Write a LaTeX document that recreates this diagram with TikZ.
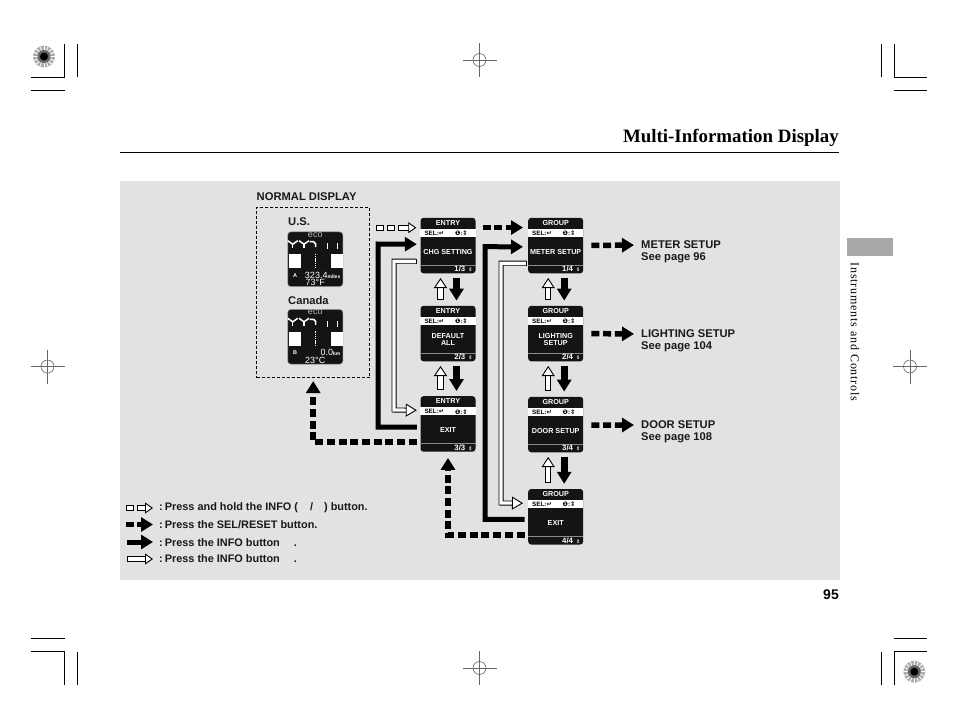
\documentclass[tikz,border=0pt]{standalone}
\usepackage{fontspec}
\setmainfont{Liberation Sans}
\newfontfamily\titleserif{Liberation Serif}
\newfontfamily\spacedserif[LetterSpace=7]{Liberation Serif}
\newfontfamily\symbolsans{DejaVu Sans}
\usetikzlibrary{arrows.meta}
\definecolor{panelgray}{HTML}{E2E2E2}
\definecolor{tabgray}{HTML}{A8A8A8}
\tikzset{
    plainlabel/.style={inner sep=0pt, anchor=west, font=\fontsize{11.2}{13}\selectfont\bfseries, text=black!90},
    legendlabel/.style={inner sep=0pt, anchor=base west, font=\fontsize{10.9}{13}\selectfont\bfseries, text=black!90},
    screenbox/.style={fill=black!92, rounded corners=3pt, minimum width=55pt, minimum height=55.5pt, inner sep=0pt, anchor=north west},
    screentext/.style={inner sep=0pt, text=white, align=center, font=\fontsize{7.2}{7.8}\selectfont\bfseries},
    bandtext/.style={inner sep=0pt, anchor=west, text=black, font=\fontsize{6.3}{7}\selectfont\bfseries},
    blackarrow/.style={line width=5pt, black, -{Triangle[length=12pt,width=14pt]}},
    whitearrow/.style={line width=0.9pt, double=white, double distance=3.2pt, black, {Bar[width=5pt,length=0.9pt]}-{Triangle[open,fill=white,length=11pt,width=13pt]}},
    keyarrow/.style={line width=0.9pt, double=white, double distance=4pt, black, {Bar[width=5.8pt,length=0.9pt]}-{Triangle[open,fill=white,length=8pt,width=11pt]}},
    dasharrow/.style={line width=5.5pt, black, dash pattern=on 8pt off 3.7pt, -{Triangle[length=12pt,width=14pt]}},
    blackdown/.style={line width=7pt, black, -{Triangle[length=12pt,width=14pt]}},
    whiteup/.style={line width=0.9pt, double=white, double distance=4.4pt, black, {Bar[width=6.2pt,length=0.9pt]}-{Triangle[open,fill=white,length=10pt,width=13pt]}},
    keysquare/.style={draw=black, fill=white, line width=0.9pt, minimum width=7pt, minimum height=4.6pt, inner sep=0pt},
    cropline/.style={line width=1pt, black},
    finecross/.style={line width=0.6pt, black!60},
}
\newcommand{\menuscreen}[6]{
    \node[screenbox] (#1) at (#2,#3) {};
    \fill[white] ([yshift=-11.3pt]#1.north west) rectangle ([yshift=-19pt]#1.north east);
    \draw[line width=0.5pt, black!45] ([yshift=-47.5pt]#1.north west) -- ([yshift=-47.5pt]#1.north east);
    \node[screentext] (#1title) at ([yshift=-5.2pt]#1.north) {#4};
    \node[bandtext] (#1sel) at ([xshift=4pt,yshift=-15.8pt]#1.north west) {SEL:{\symbolsans ↵}};
    \node[bandtext] (#1info) at ([xshift=34.5pt,yshift=-15.8pt]#1.north west) {{\symbolsans ❶}:{\symbolsans ⇕}};
    \node[screentext] (#1body) at ([yshift=-34pt]#1.north) {#5};
    \node[screentext, anchor=east, font=\fontsize{7.8}{8}\selectfont\bfseries] (#1count) at ([xshift=-3pt,yshift=-51.6pt]#1.north east) {#6\hspace{3pt}{\symbolsans\fontsize{5}{6}\selectfont ⇕}};
}
\newcommand{\normalpanel}[7]{
    \node[screenbox, minimum height=54.5pt, draw=black!50, line width=0.5pt] (#1) at (#2,#3) {};
    \node[inner sep=0pt, text=black!28, font=\fontsize{9}{9}\selectfont] (#1eco) at ([yshift=-3.2pt]#1.north) {eco};
    \fill[white] ([xshift=1pt,yshift=-22.5pt]#1.north west) rectangle ([xshift=13.5pt,yshift=-36.5pt]#1.north west);
    \fill[white] ([xshift=-12.5pt,yshift=-22.5pt]#1.north east) rectangle ([yshift=-36.5pt]#1.north east);
    \draw[white, line width=0.5pt, dash pattern=on 1.5pt off 0.7pt] ([yshift=-22pt]#1.north) -- ([yshift=-37pt]#1.north);
    \foreach \gaugex in {5.2,16.5} {
        \draw[white, line width=1.5pt] ([xshift=\gaugex pt-5pt,yshift=-9pt]#1.north west) -- ([xshift=\gaugex pt,yshift=-12.5pt]#1.north west) -- ([xshift=\gaugex pt+5pt,yshift=-9pt]#1.north west);
        \draw[white, line width=1.5pt] ([xshift=\gaugex pt,yshift=-12.5pt]#1.north west) -- ([xshift=\gaugex pt,yshift=-16.5pt]#1.north west);
    }
    \draw[white, line width=1.5pt] ([xshift=22pt,yshift=-10pt]#1.north west) -- ([xshift=26pt,yshift=-10pt]#1.north west) -- ([xshift=28pt,yshift=-12pt]#1.north west) -- ([xshift=28pt,yshift=-15.5pt]#1.north west);
    \foreach \gaugex in {39.5,49.5} {
        \draw[white, line width=0.9pt] ([xshift=\gaugex pt,yshift=-11.5pt]#1.north west) -- ([xshift=\gaugex pt,yshift=-17.5pt]#1.north west);
    }
    \node[inner sep=0pt, text=white, font=\fontsize{5.5}{6}\selectfont\bfseries] (#1trip) at ([xshift=7.5pt,yshift=-43.5pt]#1.north west) {#4};
    \node[inner sep=0pt, anchor=east, text=white, font=\fontsize{9}{9}\selectfont] (#1range) at ([xshift=-2.5pt,yshift=-43.5pt]#1.north east) {#5{\fontsize{5}{5}\selectfont\bfseries #6}};
    \node[inner sep=0pt, text=white, font=\fontsize{9}{9}\selectfont] (#1temp) at ([yshift=-51pt]#1.north) {#7};
}
\newcommand{\regmark}[2]{
    \fill[black!32] (#1,#2) circle (11);
    \foreach \spokeangle in {0,22.5,...,337.5} {
        \draw[white, line width=0.8pt] (#1,#2) ++(\spokeangle:6) -- ++(\spokeangle:5);
    }
    \fill[black!60] (#1,#2) circle (6.5);
    \fill[black] (#1,#2) circle (4);
}
\newcommand{\finecrosshair}[2]{
    \draw[finecross] (#1,#2) circle (6.5);
    \draw[finecross] (#1-17,#2) -- (#1+17,#2);
    \draw[finecross] (#1,#2-17) -- (#1,#2+17);
}
\begin{document}
\begin{tikzpicture}[x=1pt, y=-1pt]
    \useasboundingbox (0,0) rectangle (954,710);
    \fill[panelgray] (120,181) rectangle (840,580);
    \fill[tabgray] (847,238) rectangle (893,256);
    \draw[line width=0.9pt] (120,152.5) -- (839,152.5);
    \node[inner sep=0pt, anchor=east, font=\fontsize{18.9}{22}\selectfont\titleserif\bfseries] (pagetitle) at (839,137.5) {Multi-Information Display};
    \node[inner sep=0pt, anchor=east, font=\fontsize{14}{16}\selectfont\bfseries] (pagenumber) at (839,595) {95};
    \node[inner sep=0pt, rotate=-90, font=\fontsize{12}{14}\spacedserif] (sidetab) at (855,332) {Instruments and Controls};
    \draw[cropline] (64.5,44) -- (64.5,77.3) -- (31,77.3);
    \draw[cropline] (77.3,44) -- (77.3,77);
    \draw[cropline] (31,90.3) -- (64.7,90.3);
    \draw[cropline] (881.7,44) -- (881.7,77);
    \draw[cropline] (894.3,44) -- (894.3,77.3) -- (927,77.3);
    \draw[cropline] (894,90.3) -- (927,90.3);
    \draw[cropline] (31,638.3) -- (65,638.3);
    \draw[cropline] (31,651.5) -- (64.5,651.5) -- (64.5,685);
    \draw[cropline] (77.3,651.5) -- (77.3,685);
    \draw[cropline] (894,638.3) -- (927,638.3);
    \draw[cropline] (927,651.7) -- (894.3,651.7) -- (894.3,685);
    \draw[cropline] (881.7,651.5) -- (881.7,685);
    \regmark{44}{56.5}
    \regmark{914.3}{671.7}
    \finecrosshair{479.5}{60}
    \finecrosshair{479.5}{668}
    \finecrosshair{47.5}{366.5}
    \finecrosshair{910}{366.5}
    \node[plainlabel] (normaltitle) at (256.5,197) {NORMAL DISPLAY};
    \node[draw=black, line width=0.8pt, dash pattern=on 3pt off 2pt, minimum width=113pt, minimum height=170.6pt, inner sep=0pt, anchor=north west] (normalbox) at (256.3,206.7) {};
    \node[plainlabel] (uslabel) at (288,222) {U.S.};
    \node[plainlabel] (canadalabel) at (288,300) {Canada};
    \normalpanel{uspanel}{287.5}{231.7}{A}{323.4}{miles}{73°F}
    \normalpanel{canadapanel}{287.5}{309.3}{B}{0.0}{km}{23°C}
    \menuscreen{entryA}{420.3}{217.6}{ENTRY}{CHG SETTING}{1/3}
    \menuscreen{entryB}{420.3}{305.6}{ENTRY}{DEFAULT\\ALL}{2/3}
    \menuscreen{entryC}{420.3}{396}{ENTRY}{EXIT}{3/3}
    \menuscreen{groupA}{528}{217.6}{GROUP}{METER SETUP}{1/4}
    \menuscreen{groupB}{528}{305.6}{GROUP}{LIGHTING\\SETUP}{2/4}
    \menuscreen{groupC}{528}{396.6}{GROUP}{DOOR SETUP}{3/4}
    \menuscreen{groupD}{528}{488.8}{GROUP}{EXIT}{4/4}
    \node[plainlabel] (meterlabel) at (641,245) {METER SETUP};
    \node[plainlabel] (meterpage) at (641,258) {See page 96};
    \node[plainlabel] (lightinglabel) at (641,334) {LIGHTING SETUP};
    \node[plainlabel] (lightingpage) at (641,347) {See page 104};
    \node[plainlabel] (doorlabel) at (641,425) {DOOR SETUP};
    \node[plainlabel] (doorpage) at (641,438) {See page 108};
    \node[keysquare] (holdA) at (380,227.7) {};
    \node[keysquare] (holdB) at (391,227.7) {};
    \draw[keyarrow, shorten <=3pt, shorten >=4pt] (holdB.east) -- (holdB.east -| entryA.west);
    \draw[dasharrow, shorten <=7pt, shorten >=5pt] ([yshift=18pt]entryA.east) -- ([yshift=18pt]groupA.west);
    \draw[blackarrow, shorten <=3.5pt, shorten >=3.5pt] ([yshift=-3.2pt]entryC.west) -| (378,244) -- ([yshift=1.3pt]entryA.west);
    \draw[whitearrow, shorten <=3.5pt, shorten >=3.5pt] ([yshift=-15.6pt]entryA.west) -| (394,410) -- ([yshift=13.7pt]entryC.west);
    \draw[blackarrow, shorten <=3.5pt, shorten >=5pt] ([yshift=-2.6pt]groupD.west) -| (485,246.7) -- ([yshift=-1.3pt]groupA.west);
    \draw[whitearrow, shorten <=1pt, shorten >=5pt] ([yshift=-17.6pt]groupA.west) -| (501,503) -- ([yshift=13.5pt]groupD.west);
    \draw[dasharrow, shorten <=3.5pt, shorten >=3pt] ([yshift=-18pt]entryC.west) -| (normalbox.south);
    \draw[dasharrow, shorten <=3.5pt, shorten >=6pt] ([yshift=-18pt]groupD.west) -| (entryC.south);
    \foreach \fromscreen/\toscreen in {entryA/entryB, entryB/entryC, groupA/groupB, groupB/groupC, groupC/groupD} {
        \draw[blackdown, shorten <=4pt, shorten >=5pt] ([xshift=8.5pt]\fromscreen.south) -- ([xshift=8.5pt]\toscreen.north);
        \draw[whiteup, shorten <=6pt, shorten >=4.5pt] ([xshift=-7.5pt]\toscreen.north) -- ([xshift=-7.5pt]\fromscreen.south);
    }
    \draw[dasharrow, shorten <=8pt, shorten >=7pt] (groupA.east) -- (meterlabel.west);
    \draw[dasharrow, shorten <=8pt, shorten >=7pt] (groupB.east) -- (lightinglabel.west);
    \draw[dasharrow, shorten <=8pt, shorten >=7pt] ([yshift=-0.5pt]groupC.east) -- (doorlabel.west);
    \node[legendlabel] (legendA) at (159,510.7) {:\hspace{2pt}Press and hold the INFO (\hspace{12pt}/\hspace{11pt}) button.};
    \node[legendlabel] (legendB) at (159,528.3) {:\hspace{2pt}Press the SEL/RESET button.};
    \node[legendlabel] (legendC) at (159,546) {:\hspace{2pt}Press the INFO button\hspace{14pt}.};
    \node[legendlabel] (legendD) at (159,562.7) {:\hspace{2pt}Press the INFO button\hspace{14pt}.};
    \node[keysquare, minimum width=6.5pt] (legendkeyA) at (130,508) {};
    \node[keysquare, minimum width=6.5pt, fill=black] (legendkeyB) at (130,524.5) {};
    \coordinate (legendstartC) at (127,542);
    \coordinate (legendstartD) at (127,559);
    \draw[keyarrow, shorten <=3.7pt, shorten >=6pt] (legendkeyA.east) -- (legendkeyA.east -| legendA.west);
    \draw[blackarrow, shorten <=3.7pt, shorten >=6pt] (legendkeyB.east) -- (legendkeyB.east -| legendB.west);
    \draw[blackarrow, shorten >=6pt] (legendstartC) -- (legendstartC -| legendC.west);
    \draw[keyarrow, shorten >=6pt] (legendstartD) -- (legendstartD -| legendD.west);
\end{tikzpicture}
\end{document}
